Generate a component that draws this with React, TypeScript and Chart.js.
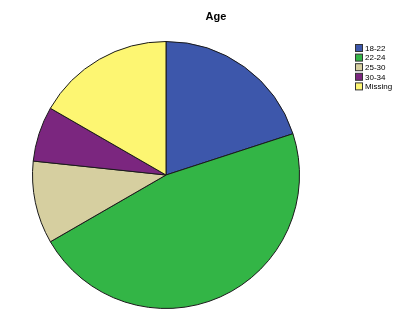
import React, { useEffect, useRef } from "react";
import { Chart, registerables } from "chart.js";

Chart.register(...registerables);

const categories = ["18-22", "22-24", "25-30", "30-34", "Missing"];
const counts = [6, 14, 3, 2, 5];
const colors = ["#3d57ab", "#33b546", "#d6cfa0", "#7b267f", "#fdf672"];
const titleText = "Age";

const customPlugin = {
  id: "spssDecor",
  afterDraw(chart: any) {
    const ctx = chart.ctx;
    ctx.save();
    ctx.fillStyle = "#000";
    ctx.font = "bold 11px 'Liberation Sans', Arial, sans-serif";
    ctx.textAlign = "center";
    ctx.textBaseline = "middle";
    ctx.fillText(titleText, 216, 17);
    const labels = chart.data.labels as string[];
    const bg = chart.data.datasets[0].backgroundColor as string[];
    ctx.font = "8px 'Liberation Sans', Arial, sans-serif";
    ctx.textAlign = "left";
    labels.forEach((l, i) => {
      const y = 44 + i * 9.6;
      ctx.fillStyle = bg[i];
      ctx.fillRect(355.5, y + 0.5, 7, 7);
      ctx.strokeStyle = "#333";
      ctx.lineWidth = 1;
      ctx.strokeRect(355.5, y + 0.5, 7, 7);
      ctx.fillStyle = "#000";
      ctx.fillText(l, 365, y + 4.5);
    });
    ctx.restore();
  },
};

export default function App() {
  const ref = useRef<HTMLCanvasElement>(null);
  useEffect(() => {
    document.body.style.margin = "0";
    const chart = new Chart(ref.current!, {
      type: "pie",
      data: {
        labels: categories,
        datasets: [
          {
            data: counts,
            backgroundColor: colors,
            borderColor: "#1a1a1a",
            borderWidth: 1,
          },
        ],
      },
      options: {
        animation: false,
        responsive: false,
        layout: { padding: { left: 31, right: 103, top: 41, bottom: 11 } },
        plugins: {
          legend: { display: false },
          title: { display: false },
          tooltip: { enabled: false },
        },
      },
      plugins: [customPlugin],
    });
    return () => chart.destroy();
  }, []);
  return (
    <div style={{ width: 404, height: 320, background: "#fff" }}>
      <canvas ref={ref} width={404} height={320} />
    </div>
  );
}
